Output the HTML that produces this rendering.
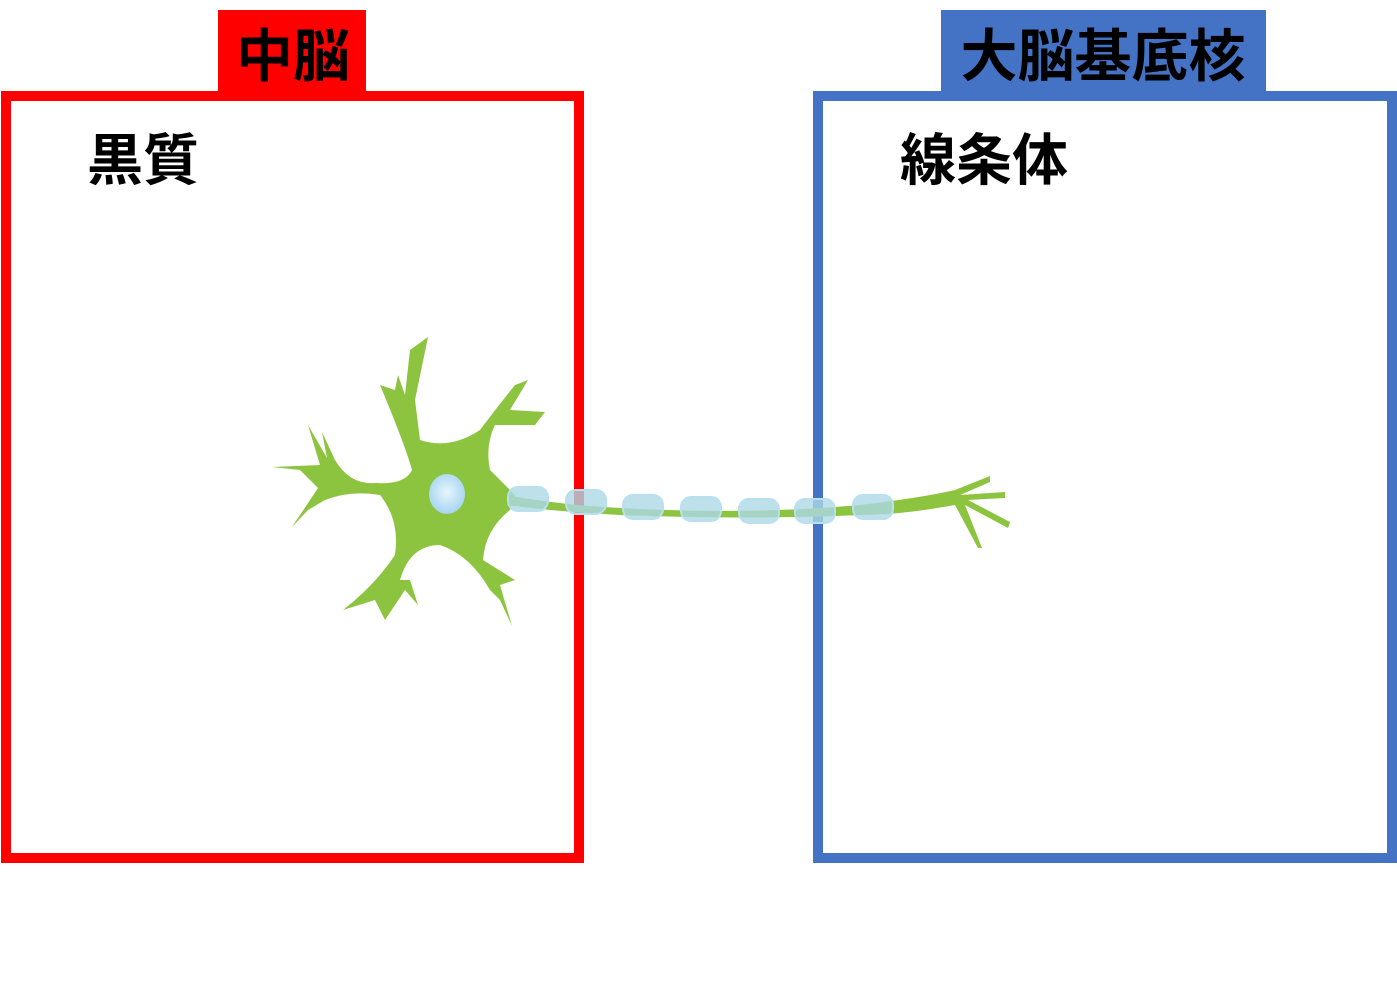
<!DOCTYPE html>
<html><head><meta charset="utf-8"><style>
body{margin:0;background:#fff;width:1397px;height:979px;overflow:hidden;font-family:"Liberation Sans","Noto Sans CJK JP",sans-serif;}
</style></head><body>
<svg width="1397" height="979" viewBox="0 0 1397 979" xmlns="http://www.w3.org/2000/svg">
<defs>
<radialGradient id="nuc" cx="0.5" cy="0.45" r="0.6"><stop offset="0" stop-color="#e6f6fd"/><stop offset="1" stop-color="#9fd2ee"/></radialGradient>
</defs>
<rect x="218" y="10" width="148" height="84" fill="#ff0000"/>
<text x="293" y="76" font-size="57" font-weight="bold" text-anchor="middle" fill="#000" font-family="'Noto Sans CJK JP',sans-serif">中脳</text>
<rect x="941" y="10" width="325" height="84" fill="#4472c4"/>
<text x="1103" y="76" font-size="57" font-weight="bold" text-anchor="middle" fill="#000" font-family="'Noto Sans CJK JP',sans-serif">大脳基底核</text>
<rect x="6" y="96" width="573" height="762" fill="none" stroke="#ff0000" stroke-width="10"/>
<rect x="818" y="96" width="574" height="762" fill="none" stroke="#4472c4" stroke-width="10"/>
<text x="143" y="180" font-size="56" font-weight="bold" text-anchor="middle" font-family="'Noto Sans CJK JP',sans-serif">黒質</text>
<text x="984" y="180" font-size="56" font-weight="bold" text-anchor="middle" font-family="'Noto Sans CJK JP',sans-serif">線条体</text>
<g fill="#8cc43f" stroke="none">
<path d="M412,470 Q405,445 380,385 L395,390 L398,375 L405,395 L410,350 L428,337 L415,400 L420,440 Q450,450 480,430 Q495,410 515,385 L528,380 L510,410 L545,412 L535,425 L495,425 Q485,445 490,470 L515,495 L510,510 Q485,530 483,560 L515,580 L500,585 L512,626 L500,600 L490,590 Q470,555 440,545 Q410,545 400,580 L410,580 L418,605 L405,590 L385,620 L375,600 L343,610 Q375,585 395,555 Q400,520 380,495 Q350,490 325,500 L308,510 L292,527 L318,488 L300,470 L272,467 L320,465 L308,425 L327,458 L322,432 L335,460 Q350,485 375,483 Q405,485 412,470 Z"/>
<path d="M505,495 Q560,505 620,508 Q750,515 860,505 Q920,498 955,490 L990,476 L990,482 L960,495 L1005,492 L1005,498 L968,500 L1010,522 L1008,528 L965,505 L982,548 L978,548 L955,505 Q900,515 860,515 Q750,520 620,515 Q560,512 505,505 Z"/>
</g>
<g fill="#add8e6" fill-opacity="0.8" stroke="#b8e0ee" stroke-width="2">
<rect x="508" y="487" width="40" height="24" rx="10"/>
<rect x="566" y="490" width="40" height="24" rx="10"/>
<rect x="623" y="495" width="40" height="24" rx="10"/>
<rect x="681" y="497" width="40" height="24" rx="10"/>
<rect x="739" y="499" width="40" height="24" rx="10"/>
<rect x="795" y="499" width="40" height="24" rx="10"/>
<rect x="853" y="495" width="40" height="24" rx="10"/>
</g>
<ellipse cx="447" cy="494" rx="18" ry="20" fill="url(#nuc)"/>
</svg>
</body></html>
